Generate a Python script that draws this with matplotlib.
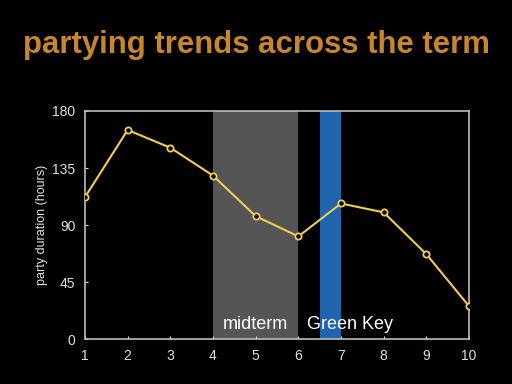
import matplotlib
matplotlib.use("Agg")
import matplotlib.pyplot as plt

plt.rcParams["font.family"] = ["Liberation Sans", "DejaVu Sans"]

weeks = [1, 2, 3, 4, 5, 6, 7, 8, 9, 10]
hours = [112, 165, 151, 129, 97, 81, 107, 100, 67, 26]
yticks = [0, 45, 90, 135, 180]
midterm = (4, 6)
greenkey = (6.5, 7)

fig = plt.figure(figsize=(5.12, 3.84), dpi=100, facecolor="black")
ax = fig.add_axes([0.166, 0.117, 0.750, 0.594], facecolor="black")

ax.axvspan(*midterm, color="#555555", zorder=1, lw=0)
ax.axvspan(*greenkey, color="#1f64ad", zorder=1, lw=0)
ax.plot(weeks, hours, color="#f2cd4e", lw=1.5, marker="o", ms=4.5,
        mfc="black", mec="#f2cd4e", mew=1.3, zorder=3)

ax.text(5, 5, "midterm", color="white", fontsize=13, ha="center", va="bottom", zorder=4)
ax.text(7.2, 5, "Green Key", color="white", fontsize=13, ha="center", va="bottom", zorder=4)

ax.set_xlim(1, 10)
ax.set_ylim(0, 180)
ax.set_xticks(weeks)
ax.set_yticks(yticks)
ax.tick_params(colors="#e0e0e0", labelsize=10, direction="in", length=2, pad=7)
for s in ax.spines.values():
    s.set_color("#bbbbbb")
    s.set_linewidth(1.2)
ax.set_ylabel("party duration (hours)", color="#e0e0e0", fontsize=9, labelpad=3)

fig.text(0.5, 0.883, "partying trends across the term", color="#c8862a",
         fontsize=22.4, fontweight="bold", ha="center", va="center")

fig.savefig("out.png", dpi=100, facecolor="black")
